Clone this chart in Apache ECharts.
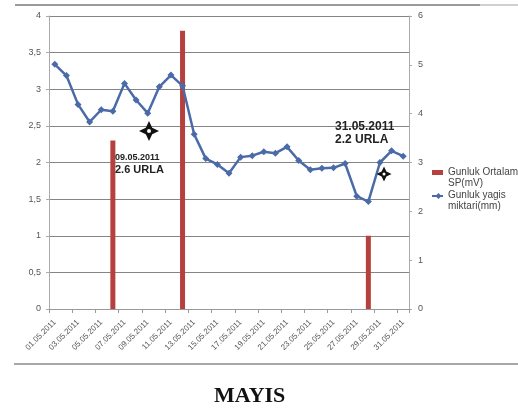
<!DOCTYPE html>
<html>
<head>
<meta charset="utf-8">
<script src="https://cdn.jsdelivr.net/npm/echarts@6/dist/echarts.min.js"></script>
<style>
  html, body { margin: 0; padding: 0; background: #fff; }
  #chart { width: 518px; height: 410px; }
</style>
</head>
<body>
<div id="chart"></div>
<script>
// Days of May 2011
const days = [
  '01.05.2011', '02.05.2011', '03.05.2011', '04.05.2011', '05.05.2011', '06.05.2011',
  '07.05.2011', '08.05.2011', '09.05.2011', '10.05.2011', '11.05.2011', '12.05.2011',
  '13.05.2011', '14.05.2011', '15.05.2011', '16.05.2011', '17.05.2011', '18.05.2011',
  '19.05.2011', '20.05.2011', '21.05.2011', '22.05.2011', '23.05.2011', '24.05.2011',
  '25.05.2011', '26.05.2011', '27.05.2011', '28.05.2011', '29.05.2011', '30.05.2011',
  '31.05.2011'
];

// Daily mean SP (mV), left axis
const spValues = [
  null, null, null, null, null, 2.3, null, null, null, null, null, 3.8,
  null, null, null, null, null, null, null, null, null, null, null, null,
  null, null, null, 1.0, null, null, null
];

// Daily rainfall (mm), right axis
const rainValues = [
  5.01, 4.78, 4.19, 3.83, 4.08, 4.05, 4.62, 4.28, 4.01, 4.55, 4.79, 4.57,
  3.58, 3.08, 2.96, 2.78, 3.11, 3.14, 3.22, 3.19, 3.32, 3.04, 2.85, 2.88,
  2.89, 2.98, 2.31, 2.20, 3.00, 3.24, 3.13
];

const seriesNames = ['Gunluk Ortalama\nSP(mV)', 'Gunluk yagis\nmiktari(mm)'];
const leftTicks = { min: 0, max: 4, interval: 0.5 };
const rightTicks = { min: 0, max: 6, interval: 1 };

// four-pointed cursor star outline
function star(cx, cy, r) {
  const a = r * 0.32;
  return [[cx, cy - r], [cx + a, cy - a], [cx + r, cy], [cx + a, cy + a],
          [cx, cy + r], [cx - a, cy + a], [cx - r, cy], [cx - a, cy - a]];
}
function cursor(cx, cy, r) {
  return [
    { type: 'polygon', shape: { points: star(cx, cy, r) }, style: { fill: '#111' }, z: 50 },
    { type: 'circle', shape: { cx: cx, cy: cy, r: r * 0.2 }, style: { fill: '#fff' }, z: 51 }
  ];
}

const labelFont = 'Liberation Sans';
const chart = echarts.init(document.getElementById('chart'), null, { renderer: 'canvas' });

chart.setOption({
  backgroundColor: '#fff',
  animation: false,
  title: {
    text: 'MAYIS',
    left: 214,
    top: 385,
    padding: 0,
    textStyle: { fontFamily: 'Liberation Serif', fontWeight: 'bold', fontSize: 22, color: '#111' }
  },
  grid: { left: 49, right: 109, top: 16, bottom: 101, containLabel: false },
  legend: {
    orient: 'vertical',
    left: 432,
    top: 167,
    padding: 0,
    itemGap: 1,
    itemWidth: 11,
    itemHeight: 16,
    textStyle: { fontFamily: labelFont, fontSize: 10, color: '#444', lineHeight: 11 },
    data: [
      { name: seriesNames[0], icon: 'path://M0,0h11v5h-11z M0,16h0.01v0.01h-0.01z' },
      { name: seriesNames[1], icon: 'path://M0,2h11v2h-11z M6.5,0l3,3l-3,3l-3,-3z M0,16h0.01v0.01h-0.01z' }
    ]
  },
  xAxis: {
    type: 'category',
    data: days,
    boundaryGap: true,
    axisLine: { lineStyle: { color: '#999', width: 1 } },
    axisTick: { show: true, interval: 1, length: 4, lineStyle: { color: '#999' } },
    axisLabel: {
      interval: 1, rotate: 45, margin: 12,
      fontFamily: labelFont, fontSize: 8, color: '#555'
    },
    splitLine: { show: false }
  },
  yAxis: [
    {
      type: 'value', position: 'left',
      min: leftTicks.min, max: leftTicks.max, interval: leftTicks.interval,
      axisLine: { show: true, lineStyle: { color: '#aaa' } },
      axisTick: { show: true, length: 3, lineStyle: { color: '#aaa' } },
      axisLabel: {
        margin: 8, fontFamily: labelFont, fontSize: 9, color: '#555',
        formatter: v => String(v).replace('.', ',')
      },
      splitLine: { show: true, lineStyle: { color: '#858585', width: 1.2 } }
    },
    {
      type: 'value', position: 'right',
      min: rightTicks.min, max: rightTicks.max, interval: rightTicks.interval,
      axisLine: { show: true, lineStyle: { color: '#aaa' } },
      axisTick: { show: true, length: 3, lineStyle: { color: '#aaa' } },
      axisLabel: { margin: 9, fontFamily: labelFont, fontSize: 9, color: '#555' },
      splitLine: { show: false }
    }
  ],
  series: [
    {
      name: seriesNames[0],
      type: 'bar',
      yAxisIndex: 0,
      data: spValues,
      barWidth: 5,
      itemStyle: { color: '#b5403e' }
    },
    {
      name: seriesNames[1],
      type: 'line',
      yAxisIndex: 1,
      data: rainValues,
      symbol: 'diamond',
      symbolSize: 7,
      lineStyle: { color: '#4a6aa8', width: 2.5 },
      itemStyle: { color: '#4a6aa8' }
    }
  ],
  graphic: [
    // page frame lines
    { type: 'line', shape: { x1: 15, y1: 5, x2: 480, y2: 5 }, style: { stroke: '#9a9a9a', lineWidth: 2 } },
    { type: 'line', shape: { x1: 480, y1: 5, x2: 518, y2: 5 }, style: { stroke: '#d0d0d0', lineWidth: 2 } },
    { type: 'line', shape: { x1: 14, y1: 364, x2: 518, y2: 364 }, style: { stroke: '#8a8a8a', lineWidth: 1.5 } },
    // notes
    { type: 'text', x: 115, y: 158, z: 40,
      style: { text: '09.05.2011', fill: '#222', font: 'bold 9px "Liberation Sans"', verticalAlign: 'middle' } },
    { type: 'text', x: 115, y: 170, z: 40,
      style: { text: '2.6 URLA', fill: '#222', font: 'bold 11px "Liberation Sans"', verticalAlign: 'middle' } },
    { type: 'text', x: 335, y: 127, z: 40,
      style: { text: '31.05.2011', fill: '#222', font: 'bold 12px "Liberation Sans"', verticalAlign: 'middle' } },
    { type: 'text', x: 335, y: 140, z: 40,
      style: { text: '2.2 URLA', fill: '#222', font: 'bold 12px "Liberation Sans"', verticalAlign: 'middle' } },
    ...cursor(149, 131, 10),
    ...cursor(384, 174, 7.5)
  ]
});
</script>
</body>
</html>
